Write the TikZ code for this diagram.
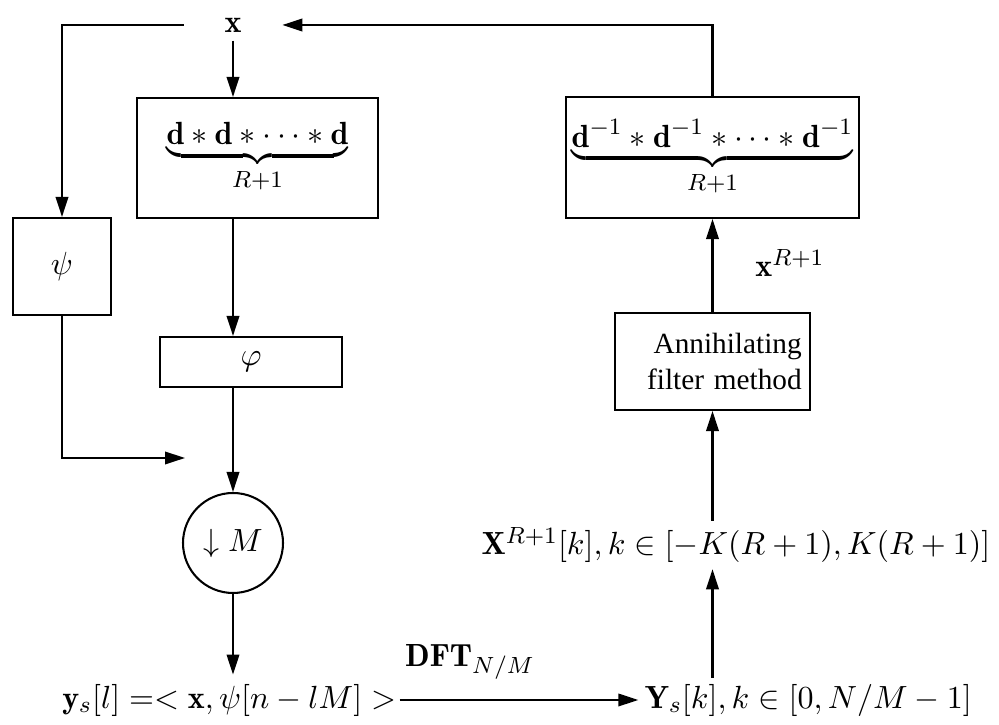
\documentclass[11pt,tikz,border=0pt]{standalone}
\usepackage{amsmath}
\usepackage{fontspec}
\newfontfamily\timesfont{Liberation Serif}
\usetikzlibrary{arrows.meta,positioning,calc}

\begin{document}
\begin{tikzpicture}[
  blk/.style={rectangle,draw,line width=0.7pt,align=center,inner sep=2pt},
  sig/.style={inner sep=2pt},
  arrow/.style={-{Triangle[length=2.4mm,width=1.5mm]},line width=0.7pt},
  wire/.style={line width=0.7pt}
]
  \useasboundingbox (0,0) rectangle (11.988,-8.7);
  % signal and feedback point
  \node[sig,minimum width=1.17cm,minimum height=0.36cm](xin) at (2.796,-0.3) {$\mathbf{x}$};
  % sampling side
  \node[blk,minimum width=2.892cm,minimum height=1.44cm](dconv) at (3.09,-1.896)
    {$\underbrace{\mathbf{d}*\mathbf{d}*\cdots*\mathbf{d}}_{R+1}$};
  \node[blk,minimum width=1.176cm,minimum height=1.164cm](psi) at (0.744,-3.198) {$\psi$};
  \node[blk,minimum width=2.184cm,minimum height=0.6cm](phi) at (3.012,-4.344) {$\varphi$};
  \coordinate (mixin) at (2.22,-5.496);
  \node[circle,draw,line width=0.7pt,minimum size=1.2cm,inner sep=0pt](down) at (2.796,-6.516) {$\downarrow M$};
  \node[sig,inner sep=1pt](ys) at (2.75,-8.4) {$\mathbf{y}_s[l] =< \mathbf{x},\psi[n-lM] >$};
  % reconstruction side
  \node[sig](Ys) at (9.7,-8.4) {$\mathbf{Y}_s[k], k\in[0,N/M-1]$};
  \node(dftlbl) at (5.64,-7.944) {$\mathbf{DFT}_{N/M}$};
  \node[sig](Xk) at (8.832,-6.54) {$\mathbf{X}^{R+1}[k], k\in[-K(R+1),K(R+1)]$};
  \node[blk,minimum height=1.164cm,inner sep=0.1cm,text width=2.14cm,align=right,
    font=\timesfont\fontsize{10}{12}\selectfont](af) at (8.55,-4.338)
    {Annihilating\\filter method};
  \node[sig](xr) at (9.48,-3.156) {$\mathbf{x}^{R+1}$};
  \node[blk,minimum width=3.492cm,minimum height=1.452cm](dinv) at (8.55,-1.89)
    {$\underbrace{\mathbf{d}^{-1}*\mathbf{d}^{-1}*\cdots*\mathbf{d}^{-1}}_{R+1}$};

  \draw[arrow](xin.south) -- (xin.south |- dconv.north);
  \draw[arrow](xin.west) -| (psi.north);
  \draw[arrow](dconv.south -| xin) -- (phi.north -| xin);
  \draw[arrow](phi.south -| xin) -- (down.north);
  \draw[arrow](psi.south) |- (mixin);
  \draw[arrow](down.south) -- ([yshift=2pt]down.south |- ys.north);
  \draw[arrow](ys.east) -- (Ys.west);
  \draw[arrow](Ys.north -| af) -- (Xk.south -| af);
  \draw[arrow](Xk.north -| af) -- (af.south);
  \draw[arrow](af.north) -- (dinv.south);
  \draw[arrow](dinv.north) |- (xin.east);
\end{tikzpicture}
\end{document}
